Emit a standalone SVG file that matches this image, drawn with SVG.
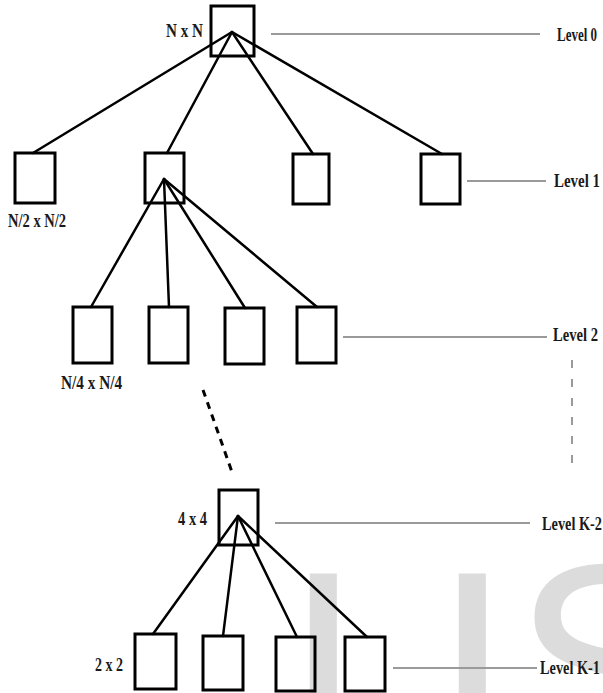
<svg xmlns="http://www.w3.org/2000/svg" width="603" height="693" viewBox="0 0 603 693">
<style>
.bg{fill:#ffffff}
.wm{fill:#dcdcdc;font-family:"Liberation Sans",Arial,sans-serif;font-size:290px}
.box{fill:none;stroke:#000;stroke-width:3}
.edge{stroke:#000;stroke-width:2.5;fill:none;stroke-linecap:round}
.lvl{stroke:#9a9a9a;stroke-width:2;fill:none}
.lbl{font-family:"Liberation Serif","Times New Roman",serif;font-weight:bold;font-size:18px;fill:#1a1a1a}
</style>
<rect class="bg" x="0" y="0" width="603" height="693"/>
<g id="watermark">
<text class="wm" x="283" y="773">I</text>
<text class="wm" x="432" y="773">I</text>
<text class="wm" x="512" y="766">S</text>
</g>
<g id="connectors">
<line class="edge" x1="232" y1="32" x2="33" y2="153"/>
<line class="edge" x1="232" y1="32" x2="167" y2="153"/>
<line class="edge" x1="232" y1="32" x2="313" y2="154"/>
<line class="edge" x1="232" y1="32" x2="442" y2="154"/>
<line class="edge" x1="164" y1="179" x2="91" y2="307"/>
<line class="edge" x1="164" y1="179" x2="169" y2="307"/>
<line class="edge" x1="164" y1="179" x2="245" y2="308"/>
<line class="edge" x1="164" y1="179" x2="317" y2="307"/>
<line x1="203" y1="390" x2="232" y2="472" stroke="#000" stroke-width="3" stroke-dasharray="7 6"/>
<line class="edge" x1="238" y1="516" x2="153" y2="634"/>
<line class="edge" x1="238" y1="516" x2="223" y2="636"/>
<line class="edge" x1="238" y1="516" x2="297" y2="637"/>
<line class="edge" x1="238" y1="516" x2="367" y2="637"/>
</g>
<g id="levels">
<line class="lvl" x1="271" y1="34" x2="540" y2="34"/>
<text class="lbl" x="557" y="41" textLength="40" lengthAdjust="spacingAndGlyphs">Level 0</text>
<line class="lvl" x1="467" y1="181" x2="546" y2="181"/>
<text class="lbl" x="554" y="187" textLength="46" lengthAdjust="spacingAndGlyphs">Level 1</text>
<line class="lvl" x1="343" y1="337" x2="547" y2="337"/>
<text class="lbl" x="553" y="341" textLength="45" lengthAdjust="spacingAndGlyphs">Level 2</text>
<line class="lvl" x1="572" y1="360" x2="572" y2="470" stroke-dasharray="8 11"/>
<line class="lvl" x1="275" y1="523" x2="530" y2="523"/>
<text class="lbl" x="542" y="530" textLength="60" lengthAdjust="spacingAndGlyphs">Level K-2</text>
<line class="lvl" x1="393" y1="668" x2="537" y2="668"/>
<text class="lbl" x="540" y="674" textLength="60" lengthAdjust="spacingAndGlyphs">Level K-1</text>
</g>
<g id="root">
<rect class="box" x="211" y="6" width="43" height="50"/>
<text class="lbl" x="166" y="37" textLength="37" lengthAdjust="spacingAndGlyphs">N x N</text>
</g>
<g id="l1-a">
<rect class="box" x="15" y="153" width="40" height="50"/>
<text class="lbl" x="8" y="227" textLength="58" lengthAdjust="spacingAndGlyphs">N/2 x N/2</text>
</g>
<g id="l1-b"><rect class="box" x="145" y="153" width="39" height="50"/></g>
<g id="l1-c"><rect class="box" x="293" y="154" width="36" height="50"/></g>
<g id="l1-d"><rect class="box" x="421" y="154" width="39" height="50"/></g>
<g id="l2-a">
<rect class="box" x="73" y="307" width="39" height="56"/>
<text class="lbl" x="61" y="389" textLength="61" lengthAdjust="spacingAndGlyphs">N/4 x N/4</text>
</g>
<g id="l2-b"><rect class="box" x="149" y="307" width="39" height="56"/></g>
<g id="l2-c"><rect class="box" x="225" y="308" width="39" height="56"/></g>
<g id="l2-d"><rect class="box" x="297" y="307" width="39" height="56"/></g>
<g id="k2">
<rect class="box" x="219" y="490" width="39" height="55"/>
<text class="lbl" x="178" y="525" textLength="29" lengthAdjust="spacingAndGlyphs">4 x 4</text>
</g>
<g id="k1-a">
<rect class="box" x="135" y="634" width="41" height="55"/>
<text class="lbl" x="95" y="671" textLength="28" lengthAdjust="spacingAndGlyphs">2 x 2</text>
</g>
<g id="k1-b"><rect class="box" x="203" y="636" width="40" height="54"/></g>
<g id="k1-c"><rect class="box" x="276" y="637" width="39" height="54"/></g>
<g id="k1-d"><rect class="box" x="345" y="637" width="40" height="54"/></g>
</svg>
